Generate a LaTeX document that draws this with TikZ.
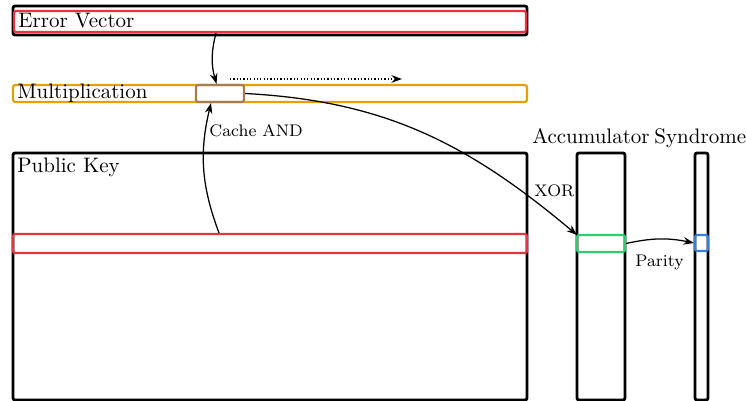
\documentclass[tikz,border=0pt]{standalone}
\usetikzlibrary{arrows.meta,fit,calc}
\definecolor{cred}{HTML}{E8323E}
\definecolor{corange}{HTML}{E5A100}
\definecolor{cbrown}{HTML}{A87C52}
\definecolor{cgreen}{HTML}{2ECC71}
\definecolor{cblue}{HTML}{2F80E0}
\begin{document}
\begin{tikzpicture}[x=0.4765pt,y=-0.4765pt,
  blk/.style={draw=black, line width=1.35pt, rounded corners=1pt, inner sep=0pt},
  colbox/.style={draw=#1, line width=1pt, rounded corners=1pt, inner sep=0pt},
  lbl/.style={inner sep=0pt, anchor=base west},
  smalllbl/.style={inner sep=0pt, anchor=base west, font=\footnotesize},
  arr/.style={-{Stealth[length=5pt,width=3.6pt]}, line width=0.6pt}]
\useasboundingbox (0,0) rectangle (746,401);

% Error vector
\node[blk, fit={(13,6)(527,35)}] (ev) {};
\node[colbox=cred, fit={(14,11)(526,32)}] (evr) {};
\node[lbl] (evt) at (18,28) {Error Vector};

% Multiplication
\node[colbox=corange, fit={(13,85)(527,102)}] (mul) {};
\node[colbox=cbrown, fit={(196,85)(244,102)}] (cache) {};
\node[lbl] (mult) at (17,99) {Multiplication};
\coordinate (d1) at (230,79);
\coordinate (d2) at (402,79);
\draw[arr, densely dotted] (d1) -- (d2);

% Public key
\node[blk, fit={(13,153)(527,400)}] (pk) {};
\node[colbox=cred, fit={(13,234)(527,253)}] (pkrow) {};
\node[lbl] (pkt) at (17,173) {Public Key};

% Accumulator
\node[blk, fit={(577,153)(625,400)}] (acc) {};
\node[colbox=cgreen, fit={(577,235)(625,252)}] (accrow) {};
\node[lbl] (acct) at (532,144) {Accumulator};

% Syndrome
\node[blk, fit={(695,153)(708,400)}] (syn) {};
\node[colbox=cblue, fit={(695,235)(708,251)}] (synrow) {};
\node[lbl, anchor=base east] (synt) at (746.5,144) {Syndrome};

% Arrows
\draw[arr] ($(cache.north |- evr.south)+(-4,0)$) to[bend right=15] ($(cache.north)+(-3.5,0)$);
\draw[arr] ($(cache.south |- pkrow.north)+(-1,0)$) to[bend left=17] ($(cache.south)+(-9,0)$);
\node[smalllbl] (andt) at (209,137) {Cache AND};

\draw[arr] (cache.east) to[out=-3, in=140] ($(accrow.north west)+(1,1)$);
\node[smalllbl] (xort) at (534,197) {XOR};

\draw[arr] (accrow.east) to[bend left=12] (synrow.west);
\node[smalllbl] (part) at (635,267) {Parity};
\end{tikzpicture}
\end{document}
